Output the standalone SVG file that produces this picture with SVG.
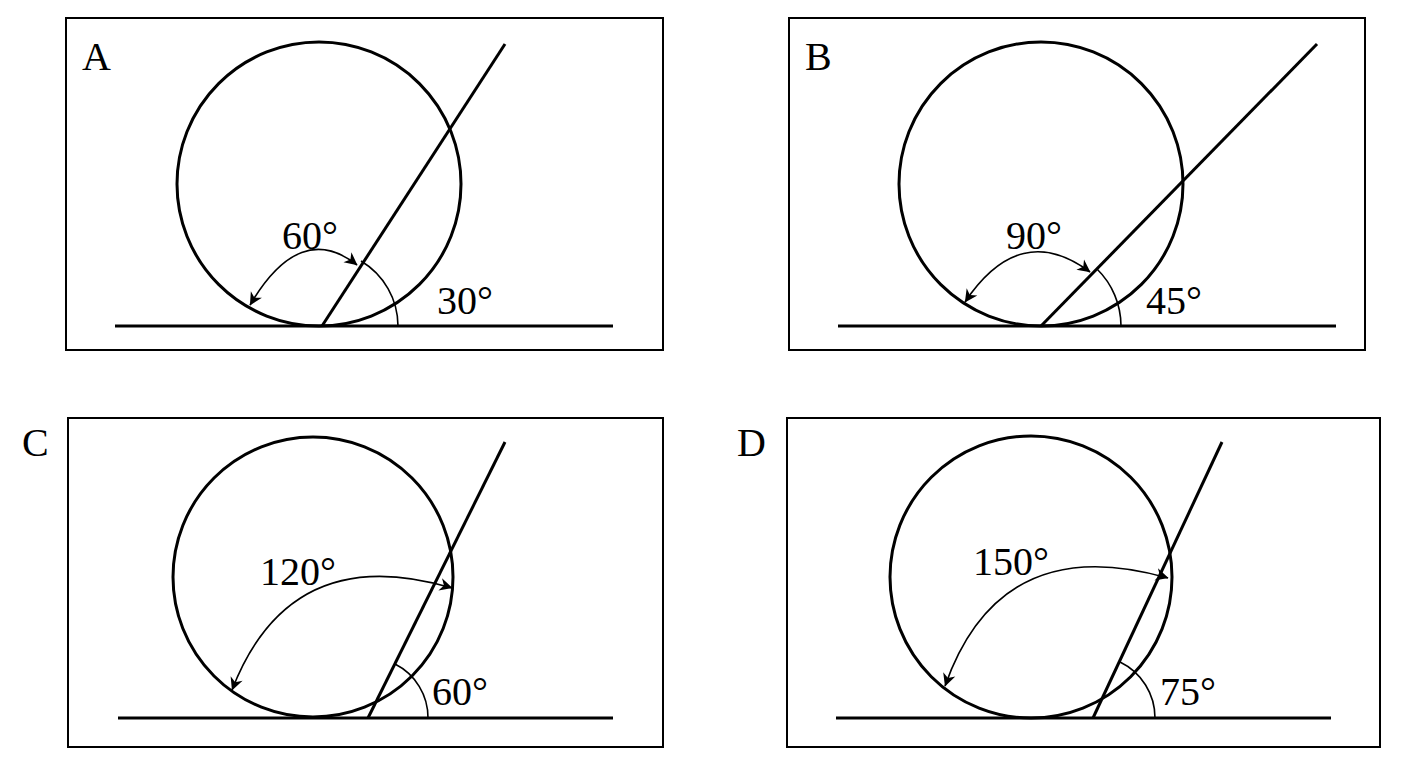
<svg xmlns="http://www.w3.org/2000/svg" width="1408" height="768" viewBox="0 0 1408 768">
<defs><marker id="ah" viewBox="0 0 10 10" refX="9" refY="5" markerWidth="8" markerHeight="8" orient="auto-start-reverse" markerUnits="userSpaceOnUse" overflow="visible"><path d="M0,0 L10,5 L0,10 L3,5 Z" fill="#000" transform="scale(1.6) translate(-4,-2)"/></marker>
<style>
.f{fill:none;stroke:#000;stroke-width:3}
.t{fill:none;stroke:#000;stroke-width:1.6}
.b{fill:#fff;stroke:#000;stroke-width:2}
text{font-family:"Liberation Serif",serif;font-size:40px;fill:#000}
</style></defs>
<rect width="1408" height="768" fill="#fff"/>
<g id="A">
<rect class="b" x="66" y="18" width="597" height="332"/>
<text x="82" y="70">A</text>
<circle class="f" cx="319" cy="184" r="142"/>
<line class="f" x1="115" y1="326" x2="613" y2="326"/>
<line class="f" x1="322" y1="326" x2="505" y2="44"/>
<path class="t" d="M398,326 A76,76 0 0 0 361,261"/>
<path class="t" d="M250,305 Q300,220 357,265" marker-start="url(#ah)" marker-end="url(#ah)"/>
<text x="282" y="249">60°</text>
<text x="437" y="314">30°</text>
</g>
<g id="B">
<rect class="b" x="789" y="18" width="576" height="332"/>
<text x="805" y="70">B</text>
<circle class="f" cx="1041" cy="184" r="142"/>
<line class="f" x1="838" y1="326" x2="1336" y2="326"/>
<line class="f" x1="1041" y1="326" x2="1317" y2="44"/>
<path class="t" d="M1121,326 A80,80 0 0 0 1097,269"/>
<path class="t" d="M965,302 Q1020,220 1090,272" marker-start="url(#ah)" marker-end="url(#ah)"/>
<text x="1006" y="249">90°</text>
<text x="1146" y="314">45°</text>
</g>
<g id="C">
<rect class="b" x="68" y="418" width="595" height="329"/>
<text x="22" y="456">C</text>
<circle class="f" cx="313" cy="577" r="140"/>
<line class="f" x1="118" y1="718" x2="613" y2="718"/>
<line class="f" x1="368" y1="718" x2="505" y2="442"/>
<path class="t" d="M428,718 A60,60 0 0 0 395,664"/>
<path class="t" d="M232,690 Q290,540 452,588" marker-start="url(#ah)" marker-end="url(#ah)"/>
<text x="260" y="585">120°</text>
<text x="432" y="705">60°</text>
</g>
<g id="D">
<rect class="b" x="787" y="418" width="593" height="329"/>
<text x="737" y="456">D</text>
<circle class="f" cx="1031" cy="577" r="141"/>
<line class="f" x1="836" y1="718" x2="1331" y2="718"/>
<line class="f" x1="1093" y1="718" x2="1222" y2="442"/>
<path class="t" d="M1155,718 A62,62 0 0 0 1120,662"/>
<path class="t" d="M945,686 Q1000,530 1168,578" marker-start="url(#ah)" marker-end="url(#ah)"/>
<text x="973" y="575">150°</text>
<text x="1160" y="705">75°</text>
</g>
</svg>
